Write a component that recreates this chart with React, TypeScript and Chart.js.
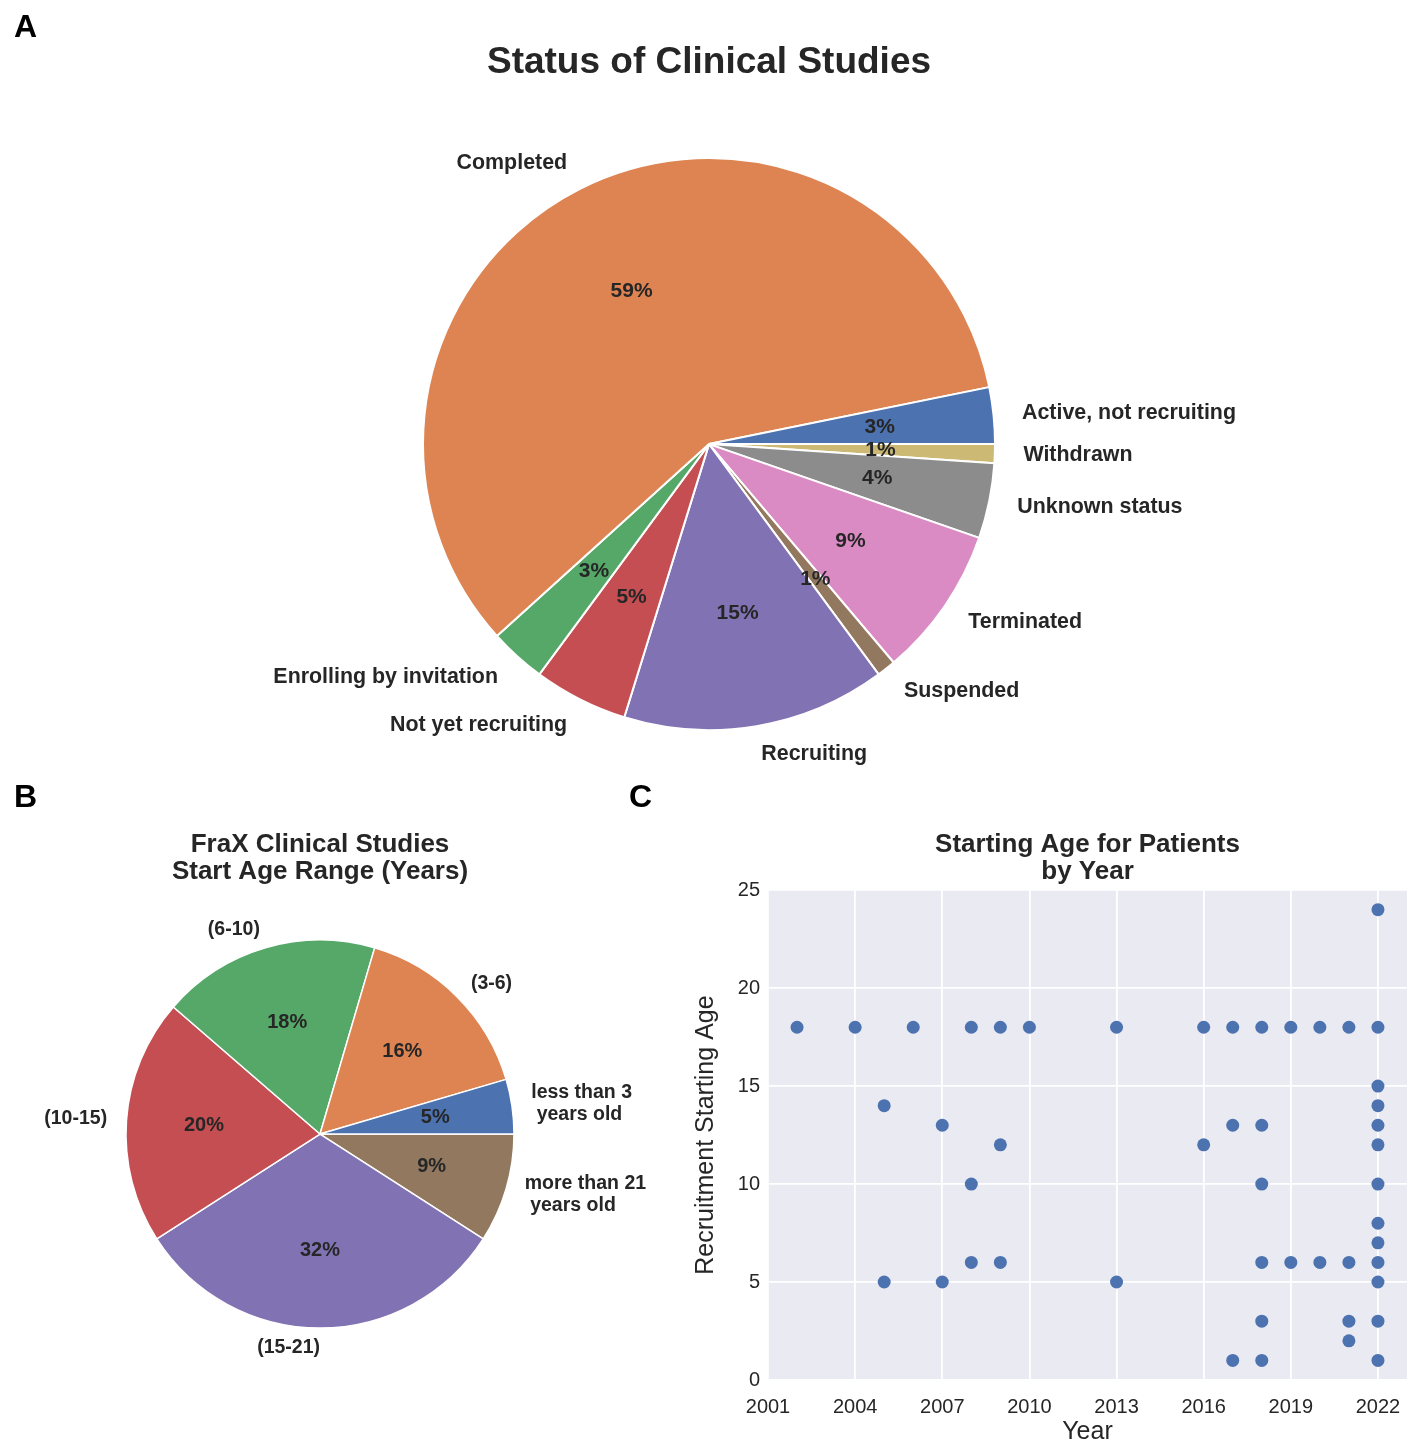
import React, { useEffect, useRef } from 'react';
import { Chart, registerables } from 'chart.js';

Chart.register(...registerables);

const FONT = "'Liberation Sans', Arial, Helvetica, sans-serif";
const TEXT = '#262626';

// Panel A: status of clinical studies (counts, matplotlib order: counter-clockwise from 3 o'clock)
const statusLabels = [
  'Active, not recruiting',
  'Completed',
  'Enrolling by invitation',
  'Not yet recruiting',
  'Recruiting',
  'Suspended',
  'Terminated',
  'Unknown status',
  'Withdrawn',
];
const statusCounts = [3, 55, 3, 5, 14, 1, 8, 4, 1];
const statusColors = ['#4C72B0', '#DD8452', '#55A868', '#C44E52', '#8172B3', '#937860', '#DA8BC3', '#8C8C8C', '#CCB974'];

// Panel B: start age range
const ageRangeLabels = ['less than 3\n years old', '(3-6)', '(6-10)', '(10-15)', '(15-21)', 'more than 21\n years old'];
const ageRangeCounts = [2, 7, 8, 9, 14, 4];
const ageRangeColors = ['#4C72B0', '#DD8452', '#55A868', '#C44E52', '#8172B3', '#937860'];

// Panel C: starting age by year
const studyYears = [
  2002, 2004, 2005, 2005, 2006, 2007, 2007, 2008, 2008, 2008,
  2009, 2009, 2009, 2010, 2013, 2013, 2016, 2016, 2017, 2017, 2017,
  2018, 2018, 2018, 2018, 2018, 2018,
  2019, 2019, 2020, 2020,
  2021, 2021, 2021, 2021,
  2022, 2022, 2022, 2022, 2022, 2022, 2022, 2022, 2022, 2022, 2022, 2022, 2022,
];
const startAges = [
  18, 18, 14, 5, 18, 13, 5, 18, 10, 6,
  18, 12, 6, 18, 18, 5, 18, 12, 18, 13, 1,
  18, 13, 10, 6, 3, 1,
  18, 6, 18, 6,
  18, 6, 3, 2,
  24, 18, 15, 14, 13, 12, 10, 8, 7, 6, 5, 3, 1,
];
const yearTicks = [2001, 2004, 2007, 2010, 2013, 2016, 2019, 2022];
const ageTicks = [0, 5, 10, 15, 20, 25];

const pieLabelsPlugin = {
  id: 'pieLabels',
  afterDatasetsDraw(chart: any, _args: any, opts: any) {
    const { ctx } = chart;
    const meta = chart.getDatasetMeta(0);
    const values = chart.data.datasets[0].data as number[];
    const total = values.reduce((a, b) => a + b, 0);
    const labels = chart.data.labels as string[];
    ctx.save();
    ctx.fillStyle = opts.color;
    meta.data.forEach((arc: any, i: number) => {
      const { x, y, startAngle, endAngle, outerRadius } = arc;
      const mid = (startAngle + endAngle) / 2;
      const c = Math.cos(mid);
      const s = Math.sin(mid);
      const pct = Math.round((values[i] / total) * 100) + '%';
      ctx.font = opts.pctFont;
      ctx.textAlign = 'center';
      ctx.textBaseline = 'middle';
      ctx.fillText(pct, x + c * outerRadius * opts.pctDistance, y + s * outerRadius * opts.pctDistance);
      const lx = x + c * outerRadius * opts.labelDistance;
      const ly = y + s * outerRadius * opts.labelDistance;
      const lines = labels[i].split('\n');
      ctx.font = opts.labelFont;
      ctx.textAlign = c > 1e-6 ? 'left' : 'right';
      lines.forEach((ln: string, k: number) => {
        ctx.fillText(ln, lx, ly + (k - (lines.length - 1) / 2) * opts.lineHeight);
      });
    });
    ctx.restore();
  },
};

const plotBgPlugin = {
  id: 'plotBg',
  beforeDraw(chart: any) {
    const { ctx, chartArea } = chart;
    if (!chartArea) return;
    ctx.save();
    ctx.fillStyle = '#EAEAF2';
    ctx.fillRect(chartArea.left, chartArea.top, chartArea.right - chartArea.left, chartArea.bottom - chartArea.top);
    ctx.restore();
  },
};

export default function App() {
  const refA = useRef<HTMLCanvasElement>(null);
  const refB = useRef<HTMLCanvasElement>(null);
  const refC = useRef<HTMLCanvasElement>(null);

  useEffect(() => {
    Chart.defaults.font.family = FONT;
    Chart.defaults.color = TEXT;

    const chartA = new Chart(refA.current as HTMLCanvasElement, {
      type: 'pie',
      data: {
        labels: [...statusLabels].reverse(),
        datasets: [
          {
            data: [...statusCounts].reverse(),
            backgroundColor: [...statusColors].reverse(),
            borderColor: '#ffffff',
            borderWidth: 2,
          },
        ],
      },
      options: {
        responsive: false,
        animation: false,
        events: [],
        rotation: 90,
        radius: 286,
        layout: { padding: 0 },
        plugins: {
          legend: { display: false },
          tooltip: { enabled: false },
          title: {
            display: true,
            text: 'Status of Clinical Studies',
            color: TEXT,
            font: { family: FONT, size: 37, weight: 'bold', lineHeight: 1.2 },
            padding: { top: 40.8, bottom: 7 },
          },
          pieLabels: {
            color: TEXT,
            pctFont: `bold 21px ${FONT}`,
            labelFont: `bold 21.4px ${FONT}`,
            pctDistance: 0.6,
            labelDistance: 1.1,
            lineHeight: 25,
          },
        } as any,
      } as any,
      plugins: [pieLabelsPlugin as any],
    });

    const chartB = new Chart(refB.current as HTMLCanvasElement, {
      type: 'pie',
      data: {
        labels: [...ageRangeLabels].reverse(),
        datasets: [
          {
            data: [...ageRangeCounts].reverse(),
            backgroundColor: [...ageRangeColors].reverse(),
            borderColor: '#ffffff',
            borderWidth: 1.5,
          },
        ],
      },
      options: {
        responsive: false,
        animation: false,
        events: [],
        rotation: 90,
        radius: 194,
        layout: { padding: { left: 0, right: 60, top: 0, bottom: 0 } },
        plugins: {
          legend: { display: false },
          tooltip: { enabled: false },
          title: {
            display: true,
            text: ['FraX Clinical Studies', 'Start Age Range (Years)'],
            color: TEXT,
            font: { family: FONT, size: 26, weight: 'bold', lineHeight: 1.04 },
            padding: { top: 31.5, bottom: 4.5 },
          },
          pieLabels: {
            color: TEXT,
            pctFont: `bold 20px ${FONT}`,
            labelFont: `bold 19.5px ${FONT}`,
            pctDistance: 0.6,
            labelDistance: 1.1,
            lineHeight: 22,
          },
        } as any,
      } as any,
      plugins: [pieLabelsPlugin as any],
    });

    const chartC = new Chart(refC.current as HTMLCanvasElement, {
      type: 'scatter',
      data: {
        datasets: [
          {
            data: studyYears.map((yr, i) => ({ x: yr, y: startAges[i] })),
            pointRadius: 6.5,
            pointBackgroundColor: '#4C72B0',
            pointBorderWidth: 0,
            borderWidth: 0,
          },
        ],
      },
      options: {
        responsive: false,
        animation: false,
        events: [],
        layout: { padding: { left: 0, right: 11, top: 0, bottom: 0 } },
        plugins: {
          legend: { display: false },
          tooltip: { enabled: false },
          title: {
            display: true,
            fullSize: false,
            text: ['Starting Age for Patients', 'by Year'],
            color: TEXT,
            font: { family: FONT, size: 26, weight: 'bold', lineHeight: 1.04 },
            padding: { top: 31.5, bottom: 4.5 },
          },
        },
        scales: {
          x: {
            type: 'linear',
            min: 2001,
            max: 2023,
            afterBuildTicks: (scale: any) => {
              scale.ticks = yearTicks.map((v) => ({ value: v }));
            },
            afterFit: (scale: any) => {
              scale.height = 68;
            },
            ticks: {
              color: TEXT,
              font: { family: FONT, size: 20 },
              padding: 15,
              callback: (v: any) => String(v),
            },
            grid: { color: '#ffffff', lineWidth: 1.8, drawTicks: false },
            border: { display: false },
            title: {
              display: true,
              text: 'Year',
              color: TEXT,
              font: { family: FONT, size: 25 },
              padding: { top: 0, bottom: 1 },
            },
          },
          y: {
            type: 'linear',
            min: 0,
            max: 25,
            afterBuildTicks: (scale: any) => {
              scale.ticks = ageTicks.map((v) => ({ value: v }));
            },
            afterFit: (scale: any) => {
              scale.width = 78;
            },
            ticks: {
              color: TEXT,
              font: { family: FONT, size: 20 },
              padding: 8,
              callback: (v: any) => String(v),
            },
            grid: { color: '#ffffff', lineWidth: 1.8, drawTicks: false },
            border: { display: false },
            title: {
              display: true,
              text: 'Recruitment Starting Age',
              color: TEXT,
              font: { family: FONT, size: 25 },
              padding: { top: 1, bottom: 0 },
            },
          },
        },
      } as any,
      plugins: [plotBgPlugin as any],
    });

    return () => {
      chartA.destroy();
      chartB.destroy();
      chartC.destroy();
    };
  }, []);

  const letter: React.CSSProperties = {
    position: 'absolute',
    fontFamily: FONT,
    fontWeight: 'bold',
    fontSize: 32,
    lineHeight: '32px',
    color: '#000',
  };

  return (
    <div style={{ position: 'absolute', left: 0, top: 0, width: 1418, height: 1448, background: '#ffffff', overflow: 'hidden' }}>
      <canvas ref={refA} width={1418} height={796} style={{ position: 'absolute', left: 0, top: 0 }} />
      <canvas ref={refB} width={700} height={578} style={{ position: 'absolute', left: 0, top: 800 }} />
      <canvas ref={refC} width={728} height={648} style={{ position: 'absolute', left: 690, top: 800 }} />
      <div style={{ ...letter, left: 14, top: 10 }}>A</div>
      <div style={{ ...letter, left: 14, top: 780 }}>B</div>
      <div style={{ ...letter, left: 629, top: 780 }}>C</div>
    </div>
  );
}
